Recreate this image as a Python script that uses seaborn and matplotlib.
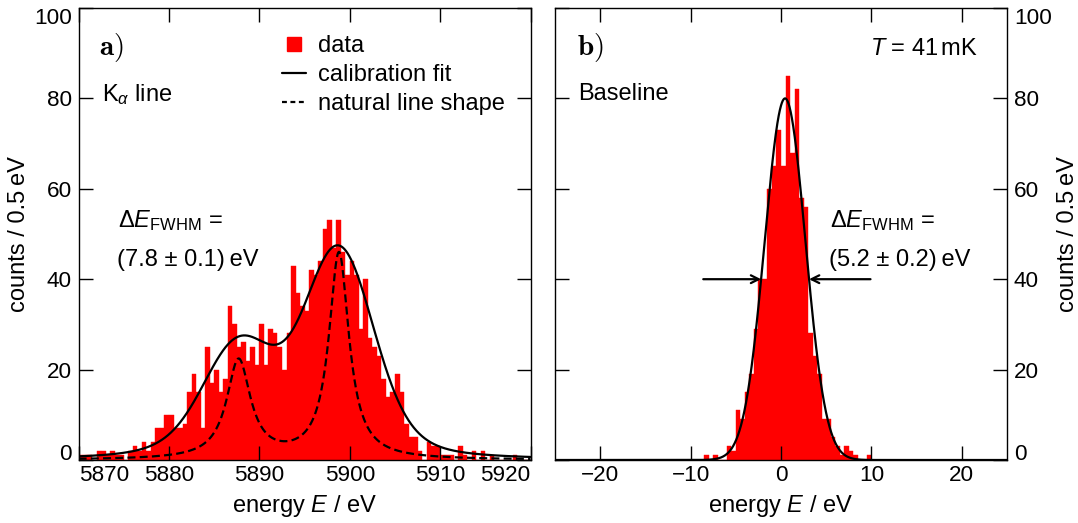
import numpy as np
import pandas as pd
import matplotlib
matplotlib.use("Agg")
import matplotlib.pyplot as plt
from matplotlib.lines import Line2D
import seaborn as sns

# ------------------------------------------------------------------ data
# a) Mn K-alpha spectrum: counts per 0.5 eV bin, first bin starts at 5870 eV
kalpha_first_bin_eV = 5870.0
bin_width_eV = 0.5
kalpha_counts = [1, 1, 1, 0, 2, 2, 1, 2, 1, 1,
                 0, 2, 3, 2, 4, 2, 4, 7, 7, 10,
                 10, 7, 7, 8, 15, 19, 15, 7, 25, 17,
                 20, 15, 18, 34, 30, 25, 26, 22, 25, 21,
                 30, 21, 29, 28, 25, 20, 28, 43, 37, 34,
                 33, 42, 41, 44, 51, 53, 47, 53, 46, 41,
                 44, 41, 29, 40, 27, 25, 23, 18, 14, 15,
                 19, 15, 8, 5, 5, 2, 0, 4, 3, 3,
                 1, 1, 1, 0, 3, 1, 0, 2, 0, 2,
                 0, 1, 0, 0, 0, 0, 1, 0, 0, 0]

# b) baseline spectrum: counts per 0.5 eV bin, first bin starts at -9 eV
baseline_first_bin_eV = -9.0
baseline_counts = [0, 1, 0, 1, 0, 0, 3, 2, 11, 9,
                   15, 19, 29, 40, 40, 60, 65, 73, 65, 85,
                   68, 82, 58, 56, 28, 23, 19, 9, 9, 5,
                   3, 1, 3, 2, 1, 0, 0, 1]

# natural Mn K-alpha line shape (Lorentzian components)
natural_centers_eV = [5898.8, 5887.7]
natural_heights = [45.6, 21.8]
natural_widths_eV = [2.7, 3.2]
kalpha_resolution_fwhm_eV = 7.8
kalpha_fit_peak_counts = 47.5

# baseline Gaussian fit
baseline_fit_center_eV = 0.45
baseline_fit_fwhm_eV = 5.3
baseline_fit_peak_counts = 80.0
baseline_arrow_tails_eV = [-8.6, 9.9]

kalpha_xticks = [5870, 5880, 5890, 5900, 5910, 5920]
baseline_xticks = [-20, -10, 0, 10, 20]
count_ticks = [0, 20, 40, 60, 80, 100]
kalpha_xlim = (5870, 5920)
baseline_xlim = (-25, 25)
count_lim = (0, 100)

legend_labels = ["data", "calibration fit", "natural line shape"]

# ------------------------------------------------------------------ style
sns.set_style("ticks")
plt.rcParams.update({
    "font.family": ["Liberation Sans", "DejaVu Sans"],
    "mathtext.fontset": "custom",
    "mathtext.rm": "Liberation Sans",
    "mathtext.it": "Liberation Sans:italic",
    "mathtext.bf": "Liberation Sans:bold",
    "mathtext.sf": "Liberation Sans",
    "axes.linewidth": 1.0,
    "axes.edgecolor": "black",
    "axes.labelcolor": "black",
    "text.color": "black",
    "xtick.color": "black",
    "ytick.color": "black",
    "xtick.labelcolor": "black",
    "ytick.labelcolor": "black",
    "axes.axisbelow": False,
})
FS = 17
FS_TICK = 16.2
RED = "#ff0000"
LW = 1.6
DASH = (0, (3.6, 1.9))
LEG_DASH = (0, (2.2, 1.6))

fig = plt.figure(figsize=(10.78, 5.23), dpi=100)
W, H = 1078, 523
ax1 = fig.add_axes([78.6 / W, 63 / H, 452 / W, 452 / H])
ax2 = fig.add_axes([555 / W, 63 / H, 452 / W, 452 / H])

# ------------------------------------------------------------------ histograms
k_centers = kalpha_first_bin_eV + bin_width_eV * (np.arange(len(kalpha_counts)) + 0.5)
df_k = pd.DataFrame({"energy": k_centers, "counts": kalpha_counts})
sns.histplot(data=df_k, x="energy", weights="counts", binwidth=bin_width_eV,
             binrange=(kalpha_first_bin_eV, kalpha_first_bin_eV + bin_width_eV * len(kalpha_counts)),
             color=RED, alpha=1, edgecolor=RED, linewidth=0.3, ax=ax1, zorder=1)

b_centers = baseline_first_bin_eV + bin_width_eV * (np.arange(len(baseline_counts)) + 0.5)
df_b = pd.DataFrame({"energy": b_centers, "counts": baseline_counts})
sns.histplot(data=df_b, x="energy", weights="counts", binwidth=bin_width_eV,
             binrange=(baseline_first_bin_eV, baseline_first_bin_eV + bin_width_eV * len(baseline_counts)),
             color=RED, alpha=1, edgecolor=RED, linewidth=0.3, ax=ax2, zorder=1)

# ------------------------------------------------------------------ fit curves
grid = np.arange(5840.0, 5950.0, 0.02)
natural = np.zeros_like(grid)
for c, h, g in zip(natural_centers_eV, natural_heights, natural_widths_eV):
    natural += h / (1.0 + ((grid - c) / (g / 2.0)) ** 2)
sig = kalpha_resolution_fwhm_eV / 2.3548
kx = np.arange(-30.0, 30.0 + 1e-9, 0.02)
kern = np.exp(-0.5 * (kx / sig) ** 2)
kern /= kern.sum()
conv = np.convolve(natural, kern, mode="same")
fit = conv * kalpha_fit_peak_counts / conv.max()
m = (grid >= kalpha_xlim[0]) & (grid <= kalpha_xlim[1])
sns.lineplot(x=grid[m], y=fit[m], ax=ax1, color="black", linewidth=LW,
             estimator=None, sort=False, zorder=3)
sns.lineplot(x=grid[m], y=natural[m], ax=ax1, color="black", linewidth=LW,
             linestyle=DASH, estimator=None, sort=False, zorder=3)

bgrid = np.linspace(baseline_xlim[0], baseline_xlim[1], 2001)
bsig = baseline_fit_fwhm_eV / 2.3548
bfit = baseline_fit_peak_counts * np.exp(-0.5 * ((bgrid - baseline_fit_center_eV) / bsig) ** 2)
sns.lineplot(x=bgrid, y=bfit, ax=ax2, color="black", linewidth=LW,
             estimator=None, sort=False, zorder=3)

# FWHM arrows
half = baseline_fit_peak_counts / 2
tips = [baseline_fit_center_eV - baseline_fit_fwhm_eV / 2,
        baseline_fit_center_eV + baseline_fit_fwhm_eV / 2]
for tail, tip in zip(baseline_arrow_tails_eV, tips):
    ax2.annotate("", xy=(tip, half), xytext=(tail, half),
                 arrowprops=dict(arrowstyle="->", lw=LW, color="black",
                                 shrinkA=0, shrinkB=0, mutation_scale=14),
                 zorder=4)

# ------------------------------------------------------------------ axes
for ax in (ax1, ax2):
    ax.set_ylim(*count_lim)
    ax.set_yticks(count_ticks)
    ax.tick_params(direction="in", length=10, width=1.0, top=True, right=True,
                   left=True, bottom=True, labelsize=FS_TICK, colors="black",
                   labelcolor="black")
    ax.tick_params(axis="x", pad=3.5)
    ax.tick_params(axis="y", pad=5)
    for s in ax.spines.values():
        s.set_visible(True)
        s.set_color("black")
        s.set_linewidth(1.0)
    ax.set_xlabel("energy $E$ / eV", fontsize=FS, labelpad=5, color="black")

ax1.set_xlim(*kalpha_xlim)
ax1.set_xticks(kalpha_xticks)
ax1.set_xticklabels([str(t) for t in kalpha_xticks])
ax1.set_yticklabels([str(t) for t in count_ticks])
ax1.set_ylabel("counts / 0.5\u2009eV", fontsize=FS, labelpad=3, color="black")

ax2.set_xlim(*baseline_xlim)
ax2.set_xticks(baseline_xticks)
ax2.set_xticklabels(["\u2212" + str(-t) if t < 0 else str(t) for t in baseline_xticks])
ax2.set_yticklabels([str(t) for t in count_ticks])
ax2.tick_params(axis="y", labelleft=False, labelright=True)
ax2.yaxis.set_label_position("right")
ax2.set_ylabel("counts / 0.5\u2009eV", fontsize=FS, labelpad=4, color="black")

# keep edge labels inside the frame
xt = ax1.xaxis.get_major_ticks()
xt[0].label1.set_horizontalalignment("left")
xt[-1].label1.set_horizontalalignment("right")
for ax in (ax1, ax2):
    yt = ax.yaxis.get_major_ticks()
    for lab in (yt[0].label1, yt[0].label2):
        lab.set_verticalalignment("baseline")
    for lab in (yt[-1].label1, yt[-1].label2):
        lab.set_verticalalignment("top")

# ------------------------------------------------------------------ annotations
ax1.text(0.045, 0.897, r"$\mathbf{a)}$", transform=ax1.transAxes, fontsize=21,
         math_fontfamily="cm", va="baseline", ha="left")
ax1.text(0.051, 0.793, r"K$_{\alpha}$ line", transform=ax1.transAxes, fontsize=FS,
         va="baseline", ha="left")
ax1.text(0.088, 0.515, r"$\Delta E_{\mathrm{FWHM}}$ =", transform=ax1.transAxes,
         fontsize=FS, va="baseline", ha="left")
ax1.text(0.084, 0.430, "(7.8 \u00b1 0.1)\u2009eV", transform=ax1.transAxes,
         fontsize=FS, va="baseline", ha="left")

ax2.text(0.049, 0.897, r"$\mathbf{b)}$", transform=ax2.transAxes, fontsize=21,
         math_fontfamily="cm", va="baseline", ha="left")
ax2.text(0.051, 0.796, "Baseline", transform=ax2.transAxes, fontsize=FS,
         va="baseline", ha="left")
ax2.text(0.935, 0.897, r"$T$ = 41$\,$mK", transform=ax2.transAxes, fontsize=FS,
         va="baseline", ha="right")
ax2.text(0.608, 0.515, r"$\Delta E_{\mathrm{FWHM}}$ =", transform=ax2.transAxes,
         fontsize=FS, va="baseline", ha="left")
ax2.text(0.606, 0.430, "(5.2 \u00b1 0.2)\u2009eV", transform=ax2.transAxes,
         fontsize=FS, va="baseline", ha="left")

# legend
handles = [
    Line2D([], [], linestyle="none", marker="s", markersize=10.5,
           markerfacecolor=RED, markeredgecolor=RED),
    Line2D([], [], color="black", linewidth=LW),
    Line2D([], [], color="black", linewidth=LW, linestyle=LEG_DASH),
]
ax1.legend(handles, legend_labels, loc="upper left", bbox_to_anchor=(0.449, 0.94),
           frameon=False, fontsize=FS, handlelength=1.05, handletextpad=0.5,
           labelspacing=0.30, borderpad=0, borderaxespad=0, labelcolor="black")

fig.savefig("out.png", dpi=100)
